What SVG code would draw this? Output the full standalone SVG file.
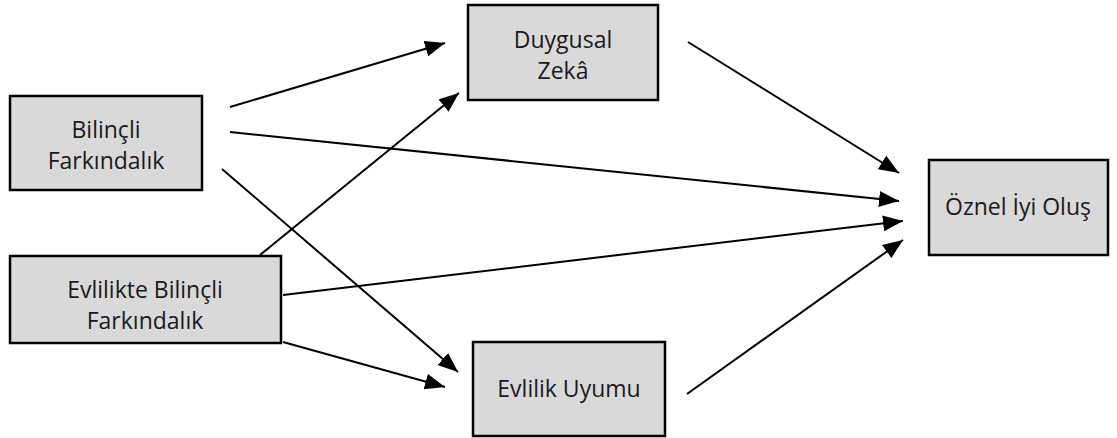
<svg xmlns="http://www.w3.org/2000/svg" width="1117" height="438" viewBox="0 0 1117 438">
<style>
.box{fill:#d9d9d9;stroke:#000;stroke-width:2.5}
.t{font-family:"Open Sans","Liberation Sans",sans-serif;font-size:23px;fill:#1a1a1a;text-anchor:middle}
.c{stroke:#000;stroke-width:2;fill:none;marker-end:url(#ah)}
</style>
<defs>
<marker id="ah" markerUnits="userSpaceOnUse" markerWidth="20" markerHeight="16" viewBox="0 0 20 16" refX="20" refY="8" orient="auto">
<path d="M0,0 L20,8 L0,16 Z" fill="#000"/>
</marker>
</defs>
<rect width="1117" height="438" fill="#fff"/>
<g id="connectors">
<line class="c" x1="230" y1="107" x2="445" y2="43"/>
<line class="c" x1="230" y1="132" x2="899" y2="201"/>
<line class="c" x1="222" y1="169" x2="458" y2="372"/>
<line class="c" x1="260" y1="255" x2="459" y2="93"/>
<line class="c" x1="283" y1="295" x2="903" y2="221"/>
<line class="c" x1="283" y1="342" x2="445" y2="387"/>
<line class="c" x1="688" y1="42" x2="899" y2="173"/>
<line class="c" x1="687" y1="394" x2="903" y2="240"/>
</g>
<g id="bilincli">
<rect class="box" x="10" y="96" width="192" height="94"/>
<text class="t" x="106" y="138">Bilinçli</text>
<text class="t" x="106" y="169">Farkındalık</text>
</g>
<g id="evlilikte">
<rect class="box" x="10" y="256" width="271" height="87"/>
<text class="t" x="145" y="298">Evlilikte Bilinçli</text>
<text class="t" x="145" y="329">Farkındalık</text>
</g>
<g id="duygusal">
<rect class="box" x="468" y="5" width="190" height="95"/>
<text class="t" x="563" y="48">Duygusal</text>
<text class="t" x="563" y="79">Zekâ</text>
</g>
<g id="uyum">
<rect class="box" x="473" y="342" width="192" height="94"/>
<text class="t" x="569" y="397">Evlilik Uyumu</text>
</g>
<g id="oznel">
<rect class="box" x="929" y="160" width="179" height="95"/>
<text class="t" x="1018" y="215">Öznel İyi Oluş</text>
</g>
</svg>
